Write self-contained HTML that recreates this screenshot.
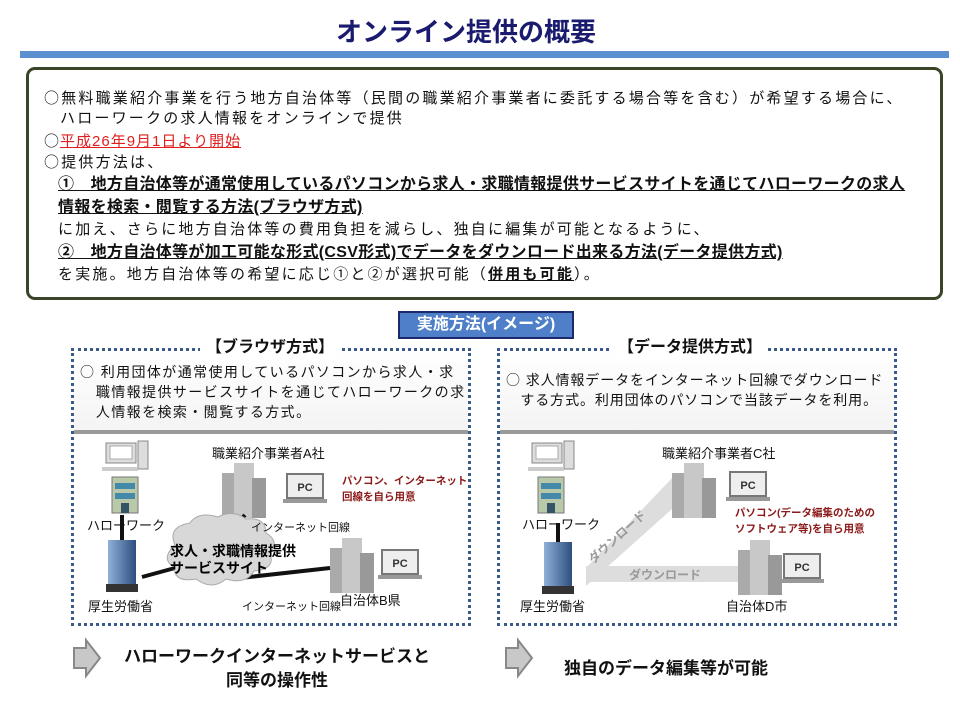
<!DOCTYPE html>
<html><head><meta charset="utf-8"><style>
*{margin:0;padding:0;box-sizing:border-box}
body{width:960px;height:720px;background:#fff;position:relative;overflow:hidden;font-family:"Liberation Sans","Noto Sans CJK JP",sans-serif;color:#111}
.a{position:absolute;white-space:nowrap}
.t{font-size:15px;line-height:22px;letter-spacing:2.2px}
.tb{letter-spacing:0.3px}
.u{text-decoration:underline}
.b{font-weight:bold}
.c{font-family:"Noto Sans CJK JP",sans-serif}
.panel{position:absolute;border:3px dotted #3a5a8a;}
.hd{position:absolute;background:#fff;font-weight:bold;font-size:16px;padding:0 6px;line-height:22px}
.red{color:#8b1a1a;font-weight:bold;font-size:10.5px;line-height:16px}
</style></head><body>
<div class="a b" style="left:336px;top:12px;font-size:26px;color:#1a1a6e">オンライン提供の概要</div>
<div class="a" style="left:20px;top:51px;width:929px;height:7px;background:#5b8fd0"></div>
<div class="a" style="left:26px;top:67px;width:917px;height:233px;border:3px solid #3a4426;border-radius:9px"></div>
<div class="a t" style="left:44px;top:87px"><span class="c">○</span>無料職業紹介事業を行う地方自治体等（民間の職業紹介事業者に委託する場合等を含む）が希望する場合に、</div>
<div class="a t" style="left:60px;top:108px">ハローワークの求人情報をオンラインで提供</div>
<div class="a t" style="left:44px;top:130px;letter-spacing:1px"><span class="c">○</span><span class="u" style="color:#e02020">平成26年9月1日より開始</span></div>
<div class="a t" style="left:44px;top:151px"><span class="c">○</span>提供方法は、</div>
<div class="a t b u tb" style="left:58px;top:174px;font-size:16px">①　地方自治体等が通常使用しているパソコンから求人・求職情報提供サービスサイトを通じてハローワークの求人</div>
<div class="a t b u tb" style="left:58px;top:197px;font-size:16px">情報を検索・閲覧する方法(ブラウザ方式)</div>
<div class="a t" style="left:58px;top:219px">に加え、さらに地方自治体等の費用負担を減らし、独自に編集が可能となるように、</div>
<div class="a t b u tb" style="left:58px;top:242px;font-size:16px">②　地方自治体等が加工可能な形式(CSV形式)でデータをダウンロード出来る方法(データ提供方式)</div>
<div class="a t" style="left:58px;top:264px">を実施。地方自治体等の希望に応じ①と②が選択可能（<span class="u b">併用も可能</span>）。</div>

<div class="a b" style="left:398px;top:311px;width:176px;height:28px;background:#4f7fc8;border:2px solid #1a2a6a;color:#fff;font-size:16px;line-height:24px;text-align:center">実施方法(イメージ)</div>

<div class="a" style="left:74px;top:350px;width:394px;height:80px;background:linear-gradient(#fff,#f4f4f4)"></div>
<div class="a" style="left:500px;top:350px;width:394px;height:80px;background:linear-gradient(#fff,#f4f4f4)"></div>
<div class="panel" style="left:71px;top:348px;width:400px;height:278px"></div>
<div class="hd" style="left:200px;top:337px">【ブラウザ方式】</div>
<div class="a" style="left:74px;top:430px;width:394px;height:4px;background:#9a9a9a"></div>
<div class="a" style="left:80px;top:362px;font-size:14px;line-height:20px;letter-spacing:1.4px"><span class="c">○</span> 利用団体が通常使用しているパソコンから求人・求<br>&nbsp;&nbsp;&nbsp;職情報提供サービスサイトを通じてハローワークの求<br>&nbsp;&nbsp;&nbsp;人情報を検索・閲覧する方式。</div>

<div class="panel" style="left:497px;top:348px;width:400px;height:278px"></div>
<div class="hd" style="left:612px;top:337px">【データ提供方式】</div>
<div class="a" style="left:500px;top:430px;width:394px;height:4px;background:#9a9a9a"></div>
<div class="a" style="left:506px;top:370px;font-size:14px;line-height:20px;letter-spacing:0.9px"><span class="c">○</span> 求人情報データをインターネット回線でダウンロード<br>&nbsp;&nbsp;&nbsp;する方式。利用団体のパソコンで当該データを利用。</div>

<svg class="a" style="left:0;top:0" width="960" height="720">
<defs>
<linearGradient id="bl" x1="0" x2="1"><stop offset="0" stop-color="#8fb0d8"/><stop offset="1" stop-color="#2d4f80"/></linearGradient>
<g id="hw"><rect x="0" y="0" width="30" height="20" fill="#ddd" stroke="#888"/><rect x="4" y="3" width="22" height="13" fill="#fff" stroke="#aaa"/><rect x="32" y="-2" width="10" height="28" fill="#ddd" stroke="#888"/><rect x="-4" y="24" width="36" height="4" fill="#ccc"/>
<rect x="6" y="34" width="26" height="36" fill="#b8c8a8" stroke="#777"/><rect x="9" y="40" width="20" height="6" fill="#48a"/><rect x="9" y="50" width="20" height="6" fill="#48a"/><rect x="15" y="60" width="8" height="10" fill="#356"/></g>
<g id="mhlw"><rect x="0" y="0" width="28" height="44" fill="url(#bl)"/><rect x="-2" y="44" width="32" height="8" fill="#333"/></g>
<g id="bld"><rect x="0" y="10" width="14" height="45" fill="#aaa"/><rect x="12" y="0" width="20" height="55" fill="#c8c8c8"/><rect x="30" y="15" width="14" height="40" fill="#999"/></g>
<g id="pc"><rect x="0" y="0" width="36" height="24" fill="#eee" stroke="#777" stroke-width="2"/><text x="18" y="17" font-size="11" font-weight="bold" text-anchor="middle" fill="#333" font-family="Liberation Sans">PC</text><rect x="-4" y="25" width="44" height="4" fill="#999"/></g>
</defs>
<use href="#hw" x="106" y="443"/>
<line x1="122" y1="515" x2="122" y2="540" stroke="#111" stroke-width="4"/>
<use href="#mhlw" x="108" y="540"/>
<use href="#bld" x="222" y="463"/>
<use href="#pc" x="287" y="474"/>
<use href="#bld" x="330" y="538"/>
<use href="#pc" x="382" y="550"/>
<line x1="142" y1="577" x2="175" y2="568" stroke="#111" stroke-width="4"/>
<line x1="245" y1="515" x2="225" y2="535" stroke="#111" stroke-width="4"/>
<line x1="240" y1="578" x2="330" y2="568" stroke="#111" stroke-width="4"/>
<path d="M175 545 q-8 -18 15 -22 q8 -12 28 -6 q15 -8 28 2 q20 -2 20 14 q14 8 4 20 q6 16 -16 18 q-8 14 -28 8 q-14 12 -30 0 q-22 4 -22 -12 q-14 -8 1 -22z" fill="#d8d8d8" stroke="#aaa"/>
<text x="170" y="556" font-size="14" font-weight="bold" font-family="Liberation Sans,Noto Sans CJK JP">求人・求職情報提供</text>
<text x="170" y="573" font-size="14" font-weight="bold" font-family="Liberation Sans,Noto Sans CJK JP">サービスサイト</text>
<use href="#hw" x="532" y="443"/>
<line x1="558" y1="523" x2="558" y2="543" stroke="#111" stroke-width="4"/>
<use href="#mhlw" x="544" y="542"/>
<polygon points="586,568 676,474 700,484 586,586" fill="#ddd"/>
<rect x="586" y="566" width="165" height="16" fill="#ddd"/>
<text x="665" y="579" font-size="12" font-weight="bold" fill="#999" text-anchor="middle" font-family="Liberation Sans,Noto Sans CJK JP">ダウンロード</text>
<text x="620" y="540" font-size="12" font-weight="bold" fill="#999" transform="rotate(-42 620 540)" text-anchor="middle" font-family="Liberation Sans,Noto Sans CJK JP">ダウンロード</text>
<use href="#bld" x="672" y="463"/>
<use href="#pc" x="730" y="472"/>
<use href="#bld" x="738" y="540"/>
<use href="#pc" x="784" y="554"/>
<polygon points="74,648 86,648 86,640 100,658 86,676 86,668 74,668" fill="#c8c8c8" stroke="#888" stroke-width="2"/>
<polygon points="506,648 518,648 518,640 532,658 518,676 518,668 506,668" fill="#c8c8c8" stroke="#888" stroke-width="2"/>
</svg>
<div class="a" style="left:212px;top:443px;font-size:13px">職業紹介事業者A社</div>
<div class="a red" style="left:342px;top:473px">パソコン、インターネット<br>回線を自ら用意</div>
<div class="a" style="left:87px;top:515px;font-size:13px">ハローワーク</div>
<div class="a" style="left:251px;top:519px;font-size:11px">インターネット回線</div>
<div class="a" style="left:88px;top:596px;font-size:13px">厚生労働省</div>
<div class="a" style="left:242px;top:598px;font-size:11px">インターネット回線</div>
<div class="a" style="left:340px;top:590px;font-size:13px">自治体B県</div>

<div class="a" style="left:662px;top:443px;font-size:13px">職業紹介事業者C社</div>
<div class="a red" style="left:735px;top:505px">パソコン(データ編集のための<br>ソフトウェア等)を自ら用意</div>
<div class="a" style="left:522px;top:514px;font-size:13px">ハローワーク</div>
<div class="a" style="left:520px;top:596px;font-size:13px">厚生労働省</div>
<div class="a" style="left:726px;top:596px;font-size:13px">自治体D市</div>

<div class="a b" style="left:124px;top:645px;font-size:17px;line-height:24px;text-align:center">ハローワークインターネットサービスと<br>同等の操作性</div>
<div class="a b" style="left:564px;top:654px;font-size:17px">独自のデータ編集等が可能</div>
</body></html>
